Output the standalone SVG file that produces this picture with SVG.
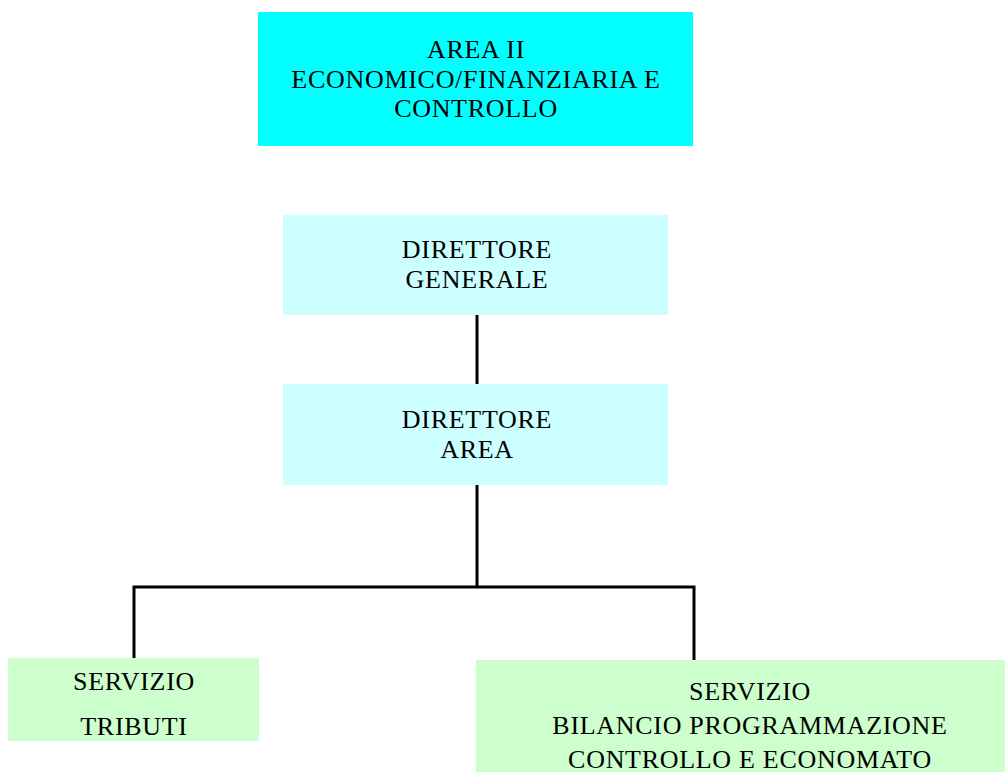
<svg xmlns="http://www.w3.org/2000/svg" width="1005" height="772" viewBox="0 0 1005 772">
<style>
text{font-family:"Liberation Serif","Times New Roman",serif;font-size:26px;fill:#000;text-anchor:middle;letter-spacing:0.7px}
.conn{stroke:#000;stroke-width:3;fill:none}
.seam{stroke:#d3ffd3;stroke-width:1}
</style>
<rect width="1005" height="772" fill="#fff"/>
<g id="area">
<rect x="258" y="12" width="435" height="134" fill="#00FFFF"/>
<text x="476" y="58">AREA II</text>
<text x="476" y="88">ECONOMICO/FINANZIARIA E</text>
<text x="476" y="117">CONTROLLO</text>
</g>
<g id="connectors">
<line class="conn" x1="477" y1="315" x2="477" y2="384"/>
<polyline class="conn" points="477,485 477,587"/>
<polyline class="conn" points="134,658 134,587 694,587 694,660"/>
</g>
<g id="dg">
<rect x="283" y="215" width="385" height="100" fill="#CCFFFF"/>
<text x="477" y="258">DIRETTORE</text>
<text x="477" y="288">GENERALE</text>
</g>
<g id="da">
<rect x="283" y="384" width="385" height="101" fill="#CCFFFF"/>
<text x="477" y="428">DIRETTORE</text>
<text x="477" y="458">AREA</text>
</g>
<g id="tributi">
<rect x="8" y="658" width="251" height="83" fill="#CCFFCC"/>
<line class="seam" x1="8" y1="706.5" x2="259" y2="706.5"/>
<text x="134" y="690">SERVIZIO</text>
<text x="134" y="735">TRIBUTI</text>
</g>
<g id="bilancio">
<rect x="476" y="660" width="529" height="112" fill="#CCFFCC"/>
<line class="seam" x1="476" y1="712.5" x2="1005" y2="712.5"/>
<line class="seam" x1="476" y1="751.5" x2="1005" y2="751.5"/>
<text x="750" y="700">SERVIZIO</text>
<text x="750" y="734">BILANCIO PROGRAMMAZIONE</text>
<text x="750" y="768">CONTROLLO E ECONOMATO</text>
</g>
</svg>
